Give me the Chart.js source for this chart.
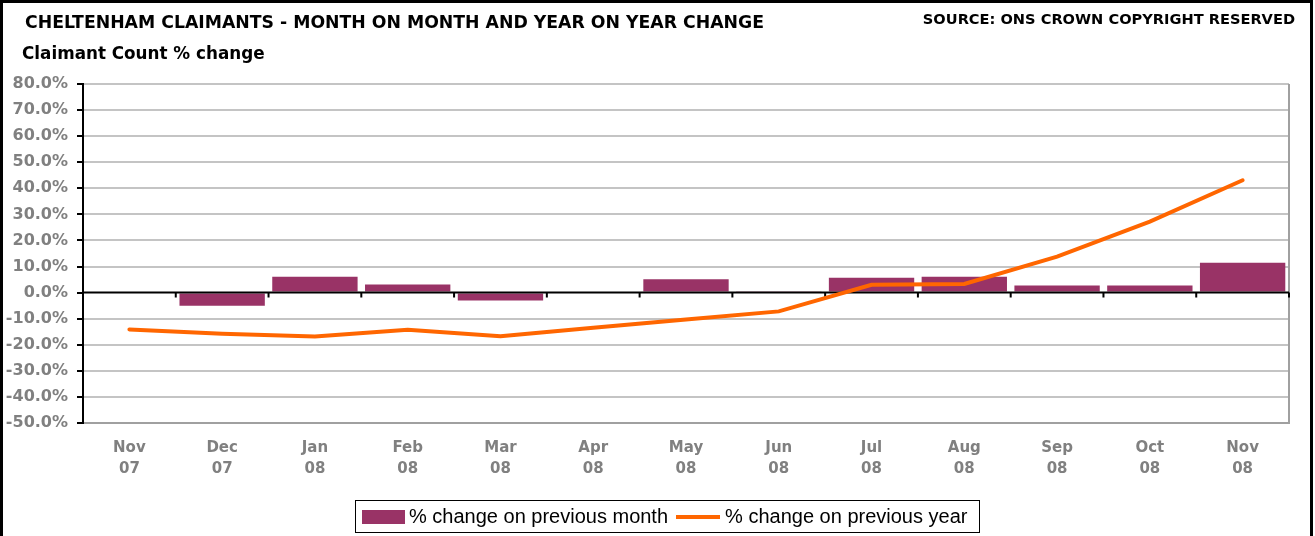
<!DOCTYPE html>
<html>
<head>
<meta charset="utf-8">
<script src="https://cdn.jsdelivr.net/npm/chart.js@4/dist/chart.umd.min.js"></script>
<style>
    body { margin: 0; background: #fff; }
    #frame { position: absolute; left: 0; top: 0; width: 1307px; height: 540px; border: 3px solid #000; }
    #chart { position: absolute; left: 0; top: 0; }
    .txt { position: absolute; font-family: "DejaVu Sans", sans-serif; font-weight: bold; color: #000; white-space: nowrap; }
    #title { left: 25px; top: 12px; font-size: 17.3px; }
    #subtitle { left: 22px; top: 43px; font-size: 16.8px; }
    #source { right: 20px; top: 10px; font-size: 14.6px; }
    #legend { position: absolute; left: 355px; top: 500px; width: 625px; height: 33px; border: 1px solid #000; box-sizing: border-box;
        display: flex; align-items: center; font-family: "Liberation Sans", Arial, sans-serif; font-size: 20px; color: #000; white-space: nowrap; }
    .swatch-bar { width: 43px; height: 14px; background: #993366; margin-left: 6px; margin-right: 4px; }
    .swatch-line { width: 44px; height: 4px; background: #ff6600; margin-left: 8px; margin-right: 5px; }
</style>
</head>
<body>
<div id="frame"></div>
<canvas id="chart" width="1315" height="536"></canvas>
<div class="txt" id="title">CHELTENHAM CLAIMANTS - MONTH ON MONTH AND YEAR ON YEAR CHANGE</div>
<div class="txt" id="subtitle">Claimant Count % change</div>
<div class="txt" id="source">SOURCE: ONS CROWN COPYRIGHT RESERVED</div>
<div id="legend">
    <div class="swatch-bar"></div><span>% change on previous month</span>
    <div class="swatch-line"></div><span>% change on previous year</span>
</div>
<script>
    const categories = [
        ['Nov', '07'], ['Dec', '07'], ['Jan', '08'], ['Feb', '08'], ['Mar', '08'], ['Apr', '08'], ['May', '08'],
        ['Jun', '08'], ['Jul', '08'], ['Aug', '08'], ['Sep', '08'], ['Oct', '08'], ['Nov', '08']
    ];

    // % change on previous month
    const monthChange = [-0.3, -5.0, 6.1, 3.1, -3.0, 0.0, 5.1, 0.3, 5.7, 6.1, 2.7, 2.7, 11.5];

    // % change on previous year
    const yearChange = [-14.1, -15.8, -16.8, -14.2, -16.7, -13.5, -10.3, -7.2, 3.0, 3.3, 13.8, 27.2, 43.1];

    const yMin = -50;
    const yMax = 80;
    const yStep = 10;

    // black zero line with the little tick marks between categories
    const zeroLine = {
        id: 'zeroLine',
        beforeDatasetsDraw(chart) {
            const { ctx, chartArea } = chart;
            ctx.save();
            ctx.strokeStyle = '#a0a0a0';
            ctx.lineWidth = 2;
            ctx.beginPath();
            ctx.moveTo(chartArea.right, chartArea.top);
            ctx.lineTo(chartArea.right, chartArea.bottom);
            ctx.stroke();
            ctx.restore();
        },
        afterDatasetDraw(chart, args) {
            if (args.index !== 0) return;
            const { ctx, chartArea, scales } = chart;
            const y0 = scales.y.getPixelForValue(0);
            const half = (scales.x.getPixelForValue(1) - scales.x.getPixelForValue(0)) / 2;
            ctx.save();
            ctx.strokeStyle = '#000';
            ctx.lineWidth = 2;
            ctx.beginPath();
            ctx.moveTo(chartArea.left, y0);
            ctx.lineTo(chartArea.right, y0);
            categories.forEach((c, i) => {
                const x = scales.x.getPixelForValue(i) + half;
                ctx.moveTo(x, y0);
                ctx.lineTo(x, y0 + 5);
            });
            ctx.stroke();
            ctx.restore();
        }
    };

    new Chart(document.getElementById('chart'), {
        data: {
            labels: categories,
            datasets: [
                {
                    type: 'bar',
                    label: '% change on previous month',
                    data: monthChange,
                    backgroundColor: '#993366',
                    barPercentage: 0.92,
                    categoryPercentage: 1.0,
                    order: 2
                },
                {
                    type: 'line',
                    label: '% change on previous year',
                    data: yearChange,
                    borderColor: '#ff6600',
                    borderWidth: 4,
                    pointRadius: 0,
                    tension: 0,
                    borderCapStyle: 'round',
                    order: 1
                }
            ]
        },
        options: {
            responsive: false,
            animation: false,
            layout: { padding: { top: 84, right: 26, bottom: 0, left: 0 } },
            plugins: {
                legend: { display: false },
                tooltip: { enabled: false }
            },
            scales: {
                x: {
                    grid: { display: false, drawTicks: false },
                    border: { display: true, color: '#a0a0a0', width: 2 },
                    ticks: {
                        color: '#808080',
                        padding: 15,
                        maxRotation: 0,
                        font: { family: 'DejaVu Sans', size: 15, weight: 'bold', lineHeight: 1.4 }
                    },
                    afterFit: (scale) => { scale.height = 113 }
                },
                y: {
                    min: yMin,
                    max: yMax,
                    grid: {
                        color: (ctx) => ctx.tick && ctx.tick.value === 0 ? 'rgba(0,0,0,0)' : '#c4c4c4',
                        lineWidth: 2,
                        tickLength: 6,
                        tickColor: '#000',
                        tickWidth: 2
                    },
                    border: { display: true, color: '#000', width: 2 },
                    ticks: {
                        stepSize: yStep,
                        color: '#808080',
                        padding: 9,
                        font: { family: 'DejaVu Sans', size: 16, weight: 'bold' },
                        callback: (v) => v.toFixed(1) + '%'
                    },
                    afterFit: (scale) => { scale.width = 83 }
                }
            }
        },
        plugins: [zeroLine]
    });
</script>
</body>
</html>
